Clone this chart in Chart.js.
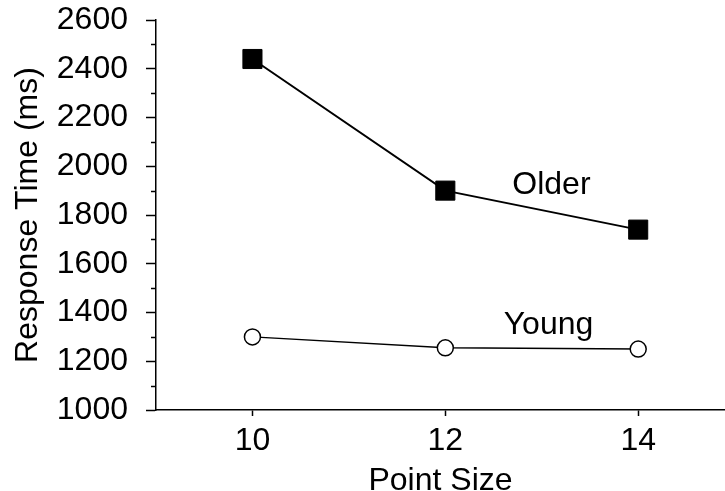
<!DOCTYPE html>
<html>
<head>
<meta charset="utf-8">
<script src="https://cdn.jsdelivr.net/npm/chart.js@4/dist/chart.umd.min.js"></script>
<style>
  html, body { margin: 0; padding: 0; background: #fff; }
  #rt { display: block; }
</style>
</head>
<body>
<canvas id="rt" width="725" height="491"></canvas>
<script>
const pointSizes = [10, 12, 14];
const olderRT = [2440, 1900, 1740];
const youngRT = [1300, 1255, 1250];
const groupNames = ["Older", "Young"];
// where each group name sits, in data units
const groupLabelAt = [[13.1, 1922], [13.07, 1348]];

const FONT = "'Liberation Sans', Arial, Helvetica, sans-serif";
const FSIZE = 32;

// short ticks at the odd hundreds, plus the group names
const extras = {
  id: "extras",
  afterDraw(chart) {
    const ctx = chart.ctx;
    const y = chart.scales.y;
    const x = chart.scales.x;
    ctx.save();
    ctx.strokeStyle = "#000";
    ctx.lineWidth = 1.5;
    for (let v = y.min + 100; v < y.max; v += 200) {
      const py = Math.round(y.getPixelForValue(v)) + 0.5;
      ctx.beginPath();
      ctx.moveTo(x.left - 5, py);
      ctx.lineTo(x.left, py);
      ctx.stroke();
    }
    ctx.fillStyle = "#000";
    ctx.font = FSIZE + "px " + FONT;
    ctx.textAlign = "center";
    ctx.textBaseline = "middle";
    groupNames.forEach((name, i) => {
      ctx.fillText(name, x.getPixelForValue(groupLabelAt[i][0]), y.getPixelForValue(groupLabelAt[i][1]));
    });
    ctx.restore();
  }
};

new Chart(document.getElementById("rt").getContext("2d"), {
  type: "line",
  data: {
    datasets: [
      {
        label: groupNames[0],
        data: pointSizes.map((p, i) => ({ x: p, y: olderRT[i] })),
        borderColor: "#000",
        borderWidth: 2,
        pointStyle: "rect",
        pointRadius: 13.5,
        pointBackgroundColor: "#000",
        pointBorderColor: "#000",
        pointBorderWidth: 1,
      },
      {
        label: groupNames[1],
        data: pointSizes.map((p, i) => ({ x: p, y: youngRT[i] })),
        borderColor: "#000",
        borderWidth: 1.5,
        pointStyle: "circle",
        pointRadius: 8,
        pointBackgroundColor: "#fff",
        pointBorderColor: "#000",
        pointBorderWidth: 1.5,
      },
    ],
  },
  options: {
    responsive: false,
    animation: false,
    clip: false,
    layout: { autoPadding: false, padding: { top: 20, right: 0, left: 0, bottom: 0 } },
    plugins: { legend: { display: false }, tooltip: { enabled: false } },
    scales: {
      x: {
        type: "linear",
        min: 9,
        max: 14.9,
        afterFit: (s) => { s.height = 81; s.paddingLeft = 0; s.paddingRight = 0; },
        afterBuildTicks: (s) => { s.ticks = pointSizes.map(v => ({ value: v })); },
        grid: { drawOnChartArea: false, tickLength: 6, tickColor: "#000", tickWidth: 1.5 },
        border: { color: "#000", width: 1.5 },
        ticks: { color: "#000", font: { family: FONT, size: FSIZE }, padding: 6, maxRotation: 0 },
        title: {
          display: true,
          text: "Point Size",
          color: "#000",
          font: { family: FONT, size: FSIZE },
          padding: { top: 0, bottom: -9 },
        },
      },
      y: {
        min: 1000,
        max: 2600,
        afterFit: (s) => { s.width = 156; s.paddingTop = 0; s.paddingBottom = 0; },
        grid: { drawOnChartArea: false, tickLength: 10, tickColor: "#000", tickWidth: 1.5 },
        border: { color: "#000", width: 1.5 },
        ticks: {
          stepSize: 200,
          color: "#000",
          font: { family: FONT, size: FSIZE },
          padding: 18,
          callback: (v) => String(v),
        },
        title: {
          display: true,
          text: "Response Time (ms)",
          color: "#000",
          font: { family: FONT, size: FSIZE },
          padding: { top: 9, bottom: 0 },
        },
      },
    },
  },
  plugins: [extras],
});
</script>
</body>
</html>
